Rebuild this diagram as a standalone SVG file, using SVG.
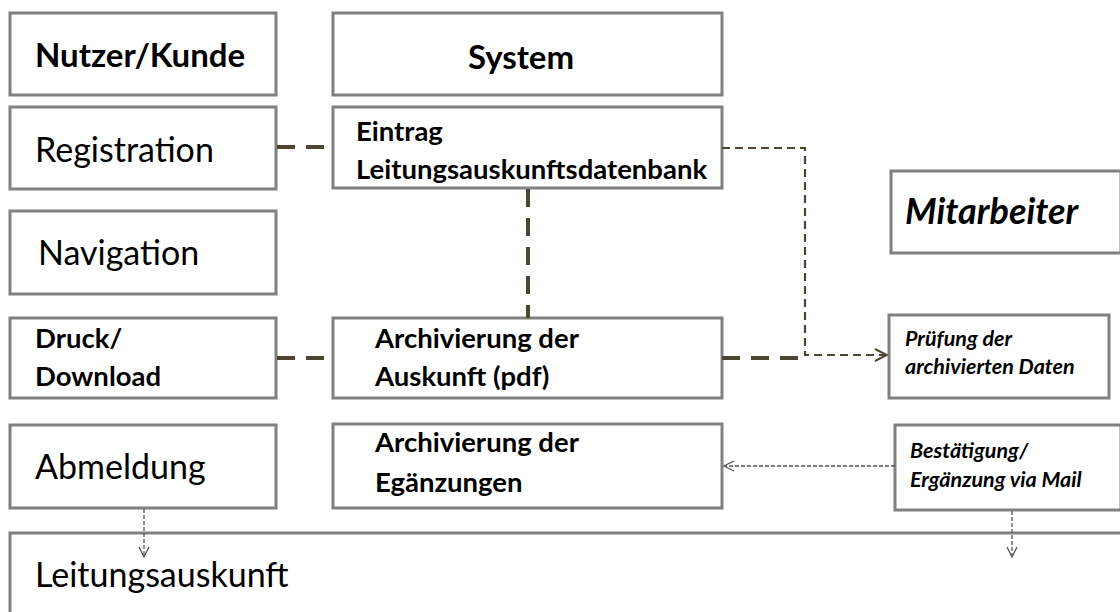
<svg xmlns="http://www.w3.org/2000/svg" width="1120" height="612" viewBox="0 0 1120 612">
  <style>
    .box { fill: #ffffff; stroke: #808080; stroke-width: 3; }
    .t { font-family: Lato, "Open Sans", "Liberation Sans", sans-serif; fill: #000000; }
    .big { font-size: 34px; }
    .head { font-size: 33px; font-weight: 700; }
    .mid { font-size: 27.5px; font-weight: 700; }
    .small { font-size: 21.5px; font-weight: 700; font-style: italic; }
    .thick { fill: none; stroke: #4d4632; stroke-width: 4; stroke-dasharray: 18 11; }
    .thin { fill: none; stroke: #4d4632; stroke-width: 2.2; stroke-dasharray: 8 5; }
    .fine { fill: none; stroke: #555555; stroke-width: 1.3; stroke-dasharray: 4 2; }
  </style>
  <defs>
    <marker id="chevOlive" viewBox="0 0 14 14" refX="13" refY="7" markerWidth="14" markerHeight="14" markerUnits="userSpaceOnUse" orient="auto">
      <path d="M1,1 L13,7 L1,13" fill="none" stroke="#4d4632" stroke-width="2"/>
    </marker>
    <marker id="chevGrey" viewBox="0 0 12 12" refX="11" refY="6" markerWidth="12" markerHeight="12" markerUnits="userSpaceOnUse" orient="auto">
      <path d="M1,1 L11,6 L1,11" fill="none" stroke="#555555" stroke-width="1.3"/>
    </marker>
  </defs>
  <rect width="1120" height="612" fill="#ffffff"/>

  <!-- user column -->
  <g id="nutzer-kunde">
    <rect class="box" x="10" y="13" width="266" height="82"/>
    <text class="t head" x="35" y="67">Nutzer/Kunde</text>
  </g>
  <g id="registration">
    <rect class="box" x="10" y="107" width="266" height="82"/>
    <text class="t big" x="35" y="162">Registration</text>
  </g>
  <g id="navigation">
    <rect class="box" x="10" y="211" width="266" height="83"/>
    <text class="t big" x="38" y="265">Navigation</text>
  </g>
  <g id="druck-download">
    <rect class="box" x="10" y="318" width="266" height="80"/>
    <text class="t mid" x="35" y="348">Druck/</text>
    <text class="t mid" x="35" y="386">Download</text>
  </g>
  <g id="abmeldung">
    <rect class="box" x="10" y="425" width="266" height="83"/>
    <text class="t big" x="35" y="479" font-size="33">Abmeldung</text>
  </g>

  <!-- system column -->
  <g id="system">
    <rect class="box" x="333" y="13" width="389" height="82"/>
    <text class="t head" x="521" y="69" text-anchor="middle" font-size="35">System</text>
  </g>
  <g id="eintrag">
    <rect class="box" x="333" y="107" width="389" height="81"/>
    <text class="t mid" x="356" y="141">Eintrag</text>
    <text class="t mid" x="356" y="179">Leitungsauskunftsdatenbank</text>
  </g>
  <g id="archiv-auskunft">
    <rect class="box" x="333" y="318" width="389" height="80"/>
    <text class="t mid" x="375" y="348">Archivierung der</text>
    <text class="t mid" x="375" y="386">Auskunft (pdf)</text>
  </g>
  <g id="archiv-ergaenzungen">
    <rect class="box" x="333" y="424" width="389" height="84"/>
    <text class="t mid" x="375" y="452">Archivierung der</text>
    <text class="t mid" x="375" y="492">Egänzungen</text>
  </g>

  <!-- staff column -->
  <g id="mitarbeiter">
    <rect class="box" x="891" y="171" width="230" height="82"/>
    <text class="t" x="905" y="224" font-size="36" font-weight="700" font-style="italic">Mitarbeiter</text>
  </g>
  <g id="pruefung">
    <rect class="box" x="889" y="315" width="220" height="83"/>
    <text class="t small" x="905" y="346">Prüfung der</text>
    <text class="t small" x="905" y="374">archivierten Daten</text>
  </g>
  <g id="bestaetigung">
    <rect class="box" x="895" y="425" width="226" height="85"/>
    <text class="t small" x="910" y="458">Bestätigung/</text>
    <text class="t small" x="910" y="487">Ergänzung via Mail</text>
  </g>

  <!-- result -->
  <g id="leitungsauskunft">
    <rect class="box" x="10" y="533" width="1120" height="100"/>
    <text class="t big" x="35" y="587" font-size="33">Leitungsauskunft</text>
  </g>

  <!-- connectors, drawn last so the down arrows stay visible -->
  <g id="connectors">
    <line class="thick" x1="277" y1="147" x2="333" y2="147"/>
    <line class="thick" x1="528" y1="189" x2="528" y2="318"/>
    <line class="thick" x1="277" y1="358" x2="333" y2="358"/>
    <line class="thick" x1="722" y1="358" x2="805" y2="358"/>
    <polyline class="thin" points="722,148 805,148 805,355 887,355" marker-end="url(#chevOlive)"/>
    <line class="fine" x1="895" y1="466" x2="724" y2="466" marker-end="url(#chevGrey)"/>
    <line class="fine" x1="144" y1="509" x2="144" y2="557" marker-end="url(#chevGrey)"/>
    <line class="fine" x1="1012" y1="511" x2="1012" y2="557" marker-end="url(#chevGrey)"/>
  </g>
</svg>
